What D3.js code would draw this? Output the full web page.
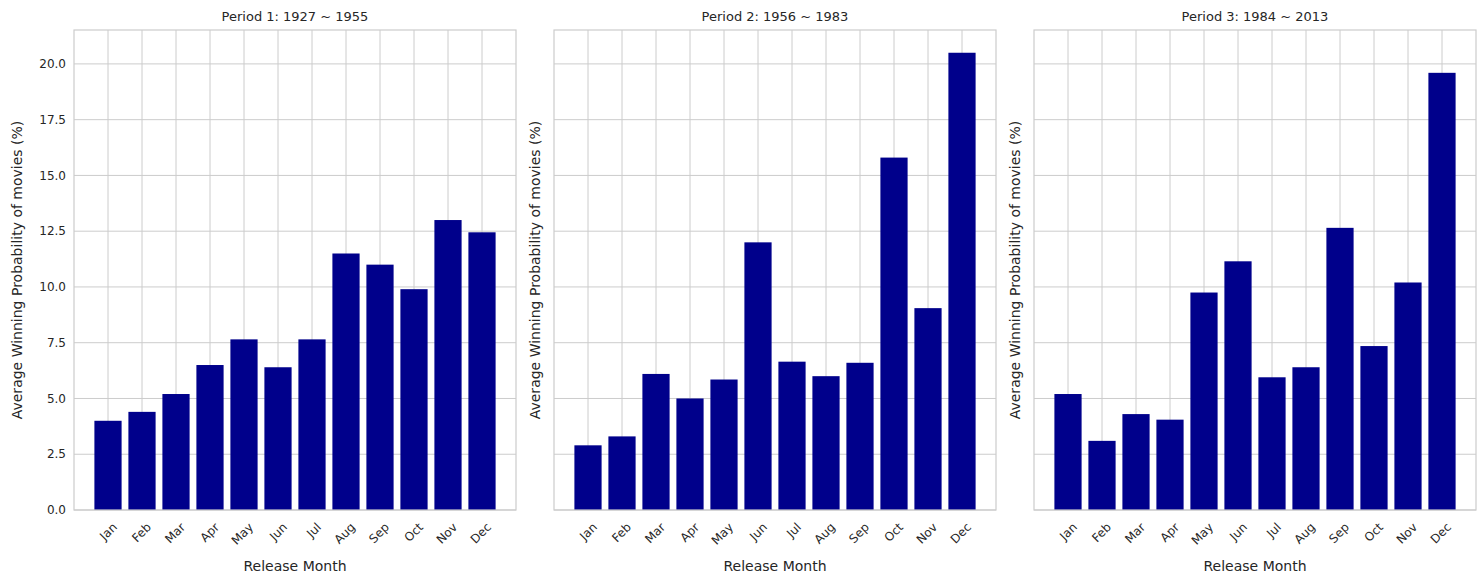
<!DOCTYPE html>
<html><head><meta charset="utf-8">
<script src="https://cdn.jsdelivr.net/npm/d3@7"></script>
<style>body{margin:0;background:#fff;font-family:"DejaVu Sans",sans-serif}</style>
</head><body><svg id="c" width="1484" height="584"></svg>
<script>
const months = ["Jan","Feb","Mar","Apr","May","Jun","Jul","Aug","Sep","Oct","Nov","Dec"];
const titles = ["Period 1: 1927 ~ 1955","Period 2: 1956 ~ 1983","Period 3: 1984 ~ 2013"];
const period1 = [4.0,4.4,5.2,6.5,7.65,6.4,7.65,11.5,11.0,9.9,13.0,12.45];
const period2 = [2.9,3.3,6.1,5.0,5.85,12.0,6.65,6.0,6.6,15.8,9.05,20.5];
const period3 = [5.2,3.1,4.3,4.05,9.75,11.15,5.95,6.4,12.65,7.35,10.2,19.6];
const yTicks = [0,2.5,5,7.5,10,12.5,15,17.5,20];

const svg = d3.select("#c");
const lefts = [74, 554, 1034], w = 442, plotTop = 30, plotBottom = 510;
const y = d3.scaleLinear().domain([0, 21.52]).range([plotBottom, plotTop]);

[period1, period2, period3].forEach((vals, p) => {
  const g = svg.append("g").attr("transform", `translate(${lefts[p]},0)`);
  const x = d3.scaleLinear().domain([-1, 12]).range([0, w]);
  // grid
  g.selectAll(".hg").data(yTicks).enter().append("line")
    .attr("x1", 0).attr("x2", w).attr("y1", d => y(d)).attr("y2", d => y(d))
    .attr("stroke", "#cccccc").attr("stroke-width", 1);
  g.selectAll(".vg").data(months).enter().append("line")
    .attr("x1", (d, i) => x(i)).attr("x2", (d, i) => x(i)).attr("y1", plotTop).attr("y2", plotBottom)
    .attr("stroke", "#cccccc").attr("stroke-width", 1);
  // bars
  g.selectAll("rect.bar").data(vals).enter().append("rect")
    .attr("x", (d, i) => x(i - 0.4)).attr("width", x(0.8) - x(0))
    .attr("y", d => y(d)).attr("height", d => plotBottom - y(d))
    .attr("fill", "#00008b");
  // frame
  g.append("rect").attr("x", 0).attr("y", plotTop).attr("width", w).attr("height", plotBottom - plotTop)
    .attr("fill", "none").attr("stroke", "#cccccc").attr("stroke-width", 1.2);
  // x tick labels
  g.selectAll(".xl").data(months).enter().append("text")
    .attr("transform", (d, i) => `translate(${x(i) + 4},${plotBottom + 12}) rotate(-45)`)
    .attr("text-anchor", "end").attr("dy", "0.7em")
    .attr("font-size", 12).attr("fill", "#262626").text(d => d);
  if (p === 0) {
    g.selectAll(".yl").data(yTicks).enter().append("text")
      .attr("x", -8).attr("y", d => y(d)).attr("dy", "0.35em")
      .attr("text-anchor", "end").attr("font-size", 12).attr("fill", "#262626")
      .text(d => d.toFixed(1));
  }
  g.append("text").attr("x", w / 2).attr("y", 21).attr("text-anchor", "middle")
    .attr("font-size", 13).attr("fill", "#262626").text(titles[p]);
  g.append("text").attr("x", w / 2).attr("y", 571).attr("text-anchor", "middle")
    .attr("font-size", 14).attr("fill", "#262626").text("Release Month");
  const yl = p === 0 ? -52 : -14;
  g.append("text").attr("transform", `translate(${yl},${(plotTop + plotBottom) / 2}) rotate(-90)`)
    .attr("text-anchor", "middle").attr("font-size", 14).attr("fill", "#262626")
    .text("Average Winning Probability of movies (%)");
});
</script></body></html>
